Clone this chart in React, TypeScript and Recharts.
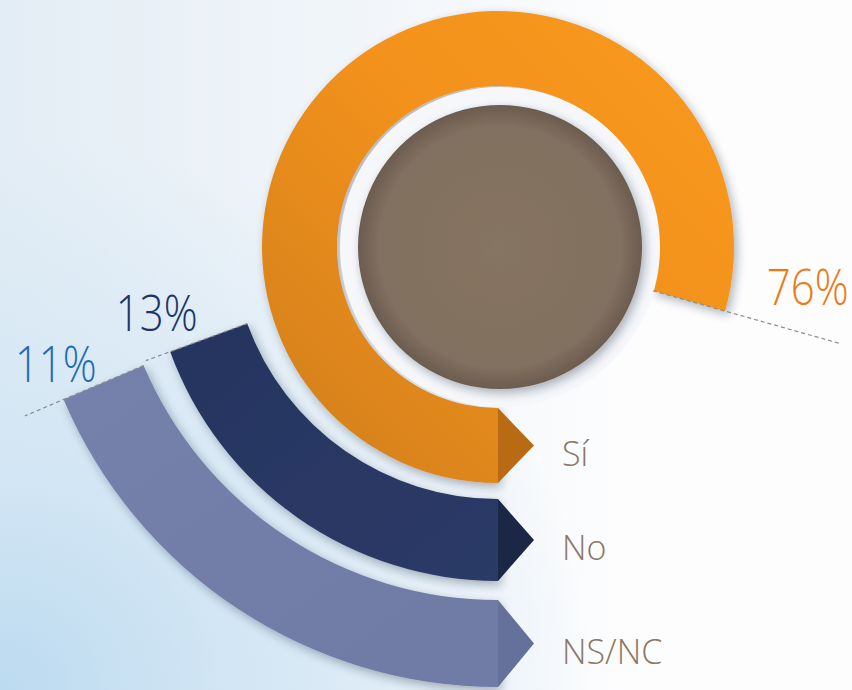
import { PieChart, Pie, Cell } from 'recharts';

const categories = ['Sí', 'No', 'NS/NC'];
const percents = [76, 13, 11];
const percentLabels = ['76%', '13%', '11%'];

const W = 852;
const H = 690;
const CX = 498;

// ring layout: centre y, radii, degrees drawn per point, colours, label offsets
const rings = [
  { cy: 247, inner: 161, outer: 236, degPerPt: 3.76, fill: 'url(#gOrange)', tip: '#b86b12', text: '#eb7a12', ext: 120, dx: 8, dy: -39, anchor: 'end' },
  { cy: 232, inner: 267, outer: 349, degPerPt: 5.38, fill: 'url(#gNavy)', tip: '#1c2746', text: '#1c3665', ext: 26, dx: -30, dy: -30, anchor: 'start' },
  { cy: 215, inner: 385, outer: 472, degPerPt: 6.09, fill: 'url(#gSlate)', tip: '#66719b', text: '#1f6db6', ext: 42, dx: -10, dy: -34, anchor: 'start' },
];

const pt = (cx: number, cy: number, r: number, deg: number) => {
  const rad = (deg * Math.PI) / 180;
  return [cx + r * Math.cos(rad), cy - r * Math.sin(rad)];
};

const ringLabel = (i: number) => (props: any) => {
  const ring = rings[i];
  const cx = props.cx ?? CX;
  const cy = props.cy ?? ring.cy;
  const r0 = props.innerRadius ?? ring.inner;
  const r1 = props.outerRadius ?? ring.outer;
  const end = props.endAngle ?? 270 - percents[i] * ring.degPerPt;
  const a = pt(cx, cy, r0, end);
  const b = pt(cx, cy, r1 + ring.ext, end);
  const mid = (r0 + r1) / 2;
  return (
    <g>
      <polygon
        points={`${cx},${cy + r0} ${cx + 36},${cy + mid} ${cx},${cy + r1}`}
        fill={ring.tip}
      />
      <line x1={a[0]} y1={a[1]} x2={b[0]} y2={b[1]} stroke="#8c8c8c" strokeWidth={1.2} strokeDasharray="4 3" />
      <text
        transform={`translate(${b[0] + ring.dx},${b[1] + ring.dy}) scale(0.84,1)`}
        textAnchor={ring.anchor}
        fontFamily="'Open Sans', sans-serif"
        fontWeight={300}
        fontSize={50}
        fill={ring.text}
      >
        {percentLabels[i]}
      </text>
      <text
        x={cx + 64}
        y={cy + mid + 20}
        fontFamily="'Open Sans', sans-serif"
        fontWeight={300}
        fontSize={34}
        fill="#8a7866"
      >
        {categories[i]}
      </text>
    </g>
  );
};

export default function App() {
  return (
    <div
      style={{
        position: 'absolute',
        left: 0,
        top: 0,
        width: W,
        height: H,
        overflow: 'hidden',
        background:
          'radial-gradient(ellipse 70% 80% at 0% 100%, #bcdaf0 0%, #d3e6f4 40%, rgba(240,245,250,0) 100%), linear-gradient(to right, #e3edf5 0%, #f2f6fa 45%, #fdfdfe 75%)',
      }}
    >
      <PieChart width={W} height={H} margin={{ top: 0, right: 0, bottom: 0, left: 0 }}>
        <defs>
          <linearGradient id="gOrange" x1="1" y1="0" x2="0" y2="1">
            <stop offset="0%" stopColor="#f99a1f" />
            <stop offset="45%" stopColor="#f2911e" />
            <stop offset="100%" stopColor="#cf7e18" />
          </linearGradient>
          <linearGradient id="gNavy" x1="0" y1="0" x2="1" y2="1">
            <stop offset="0%" stopColor="#263560" />
            <stop offset="100%" stopColor="#2b3a66" />
          </linearGradient>
          <linearGradient id="gSlate" x1="0" y1="0" x2="1" y2="1">
            <stop offset="0%" stopColor="#7581ab" />
            <stop offset="100%" stopColor="#6f7ba5" />
          </linearGradient>
          <radialGradient id="gBrown" cx="0.5" cy="0.5" r="0.5">
            <stop offset="0%" stopColor="#867462" />
            <stop offset="85%" stopColor="#827060" />
            <stop offset="100%" stopColor="#6b5c4f" />
          </radialGradient>
          <filter id="sh" x="-20%" y="-20%" width="140%" height="140%">
            <feDropShadow dx="3" dy="4" stdDeviation="5" floodColor="#1b2a3e" floodOpacity="0.35" />
          </filter>
        </defs>
        {[2, 1, 0].map((i) => (
          <Pie
            key={categories[i]}
            data={[{ name: categories[i], value: percents[i] }]}
            dataKey="value"
            cx={CX}
            cy={rings[i].cy}
            innerRadius={rings[i].inner}
            outerRadius={rings[i].outer}
            startAngle={270}
            endAngle={270 - percents[i] * rings[i].degPerPt}
            stroke="none"
            label={ringLabel(i)}
            labelLine={false}
            isAnimationActive={false}
          >
            <Cell fill={rings[i].fill} filter="url(#sh)" />
          </Pie>
        ))}
        <Pie
          data={[{ name: 'fondo', value: 1 }]}
          dataKey="value"
          cx={500}
          cy={247}
          innerRadius={0}
          outerRadius={160}
          startAngle={90}
          endAngle={-270}
          stroke="none"
          isAnimationActive={false}
        >
          <Cell fill="#f5f7fa" />
        </Pie>
        <Pie
          data={[{ name: 'centro', value: 1 }]}
          dataKey="value"
          cx={500}
          cy={247}
          innerRadius={0}
          outerRadius={142}
          startAngle={90}
          endAngle={-270}
          stroke="none"
          isAnimationActive={false}
        >
          <Cell fill="url(#gBrown)" filter="url(#sh)" />
        </Pie>
      </PieChart>
    </div>
  );
}
